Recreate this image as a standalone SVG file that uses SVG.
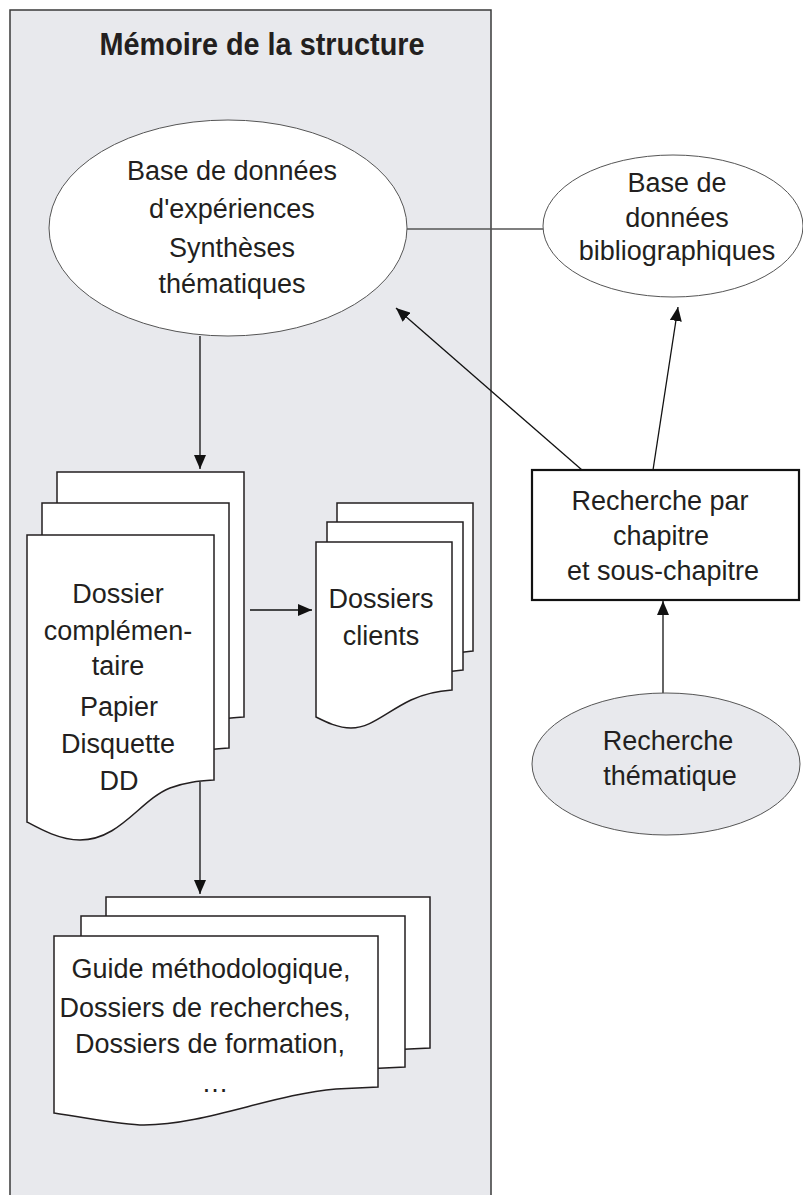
<svg xmlns="http://www.w3.org/2000/svg" xmlns:xlink="http://www.w3.org/1999/xlink" width="803" height="1195" viewBox="0 0 803 1195">
<style>
text{font-family:"Liberation Sans",Arial,sans-serif;font-size:27px;fill:#231f20;text-anchor:middle}
.title{font-weight:bold;font-size:31px}
.panel{fill:#e8e9ed;stroke:#3a3a3a;stroke-width:1.5}
.ell{fill:#fff;stroke:#555;stroke-width:1}
.ellg{fill:#e8e9ed;stroke:#555;stroke-width:1}
.page{fill:#fff;stroke:#231f20;stroke-width:1.5}
.box{fill:#fff;stroke:#111;stroke-width:2.2}
.con{stroke:#111;stroke-width:1.3;fill:none}
.link{stroke:#555;stroke-width:1.6;fill:none}
</style>
<defs>
<marker id="ah" markerUnits="userSpaceOnUse" markerWidth="14" markerHeight="12" refX="14" refY="6" orient="auto">
<path d="M0,0 L14,6 L0,12 Z" fill="#111"/>
</marker>
<path id="doc1" d="M0,0 H187 V245 C173,246 158,247 143,253 C113,265 93,305 53,305 C33,305 13,294 0,287 Z"/>
<path id="doc2" d="M0,0 H136 V148 C120,149 108,152 95,158 C70,170 55,186 35,186 C22,186 10,180 0,175 Z"/>
<path id="doc3" d="M0,0 H324 V151 L282,153 C220,158 150,189 90,189 C70,189 40,183 0,177 Z"/>
</defs>

<g id="memoire">
<rect class="panel" x="10" y="10" width="481" height="1200"/>
<text class="title" x="262" y="55" textLength="325" lengthAdjust="spacingAndGlyphs">Mémoire de la structure</text>
</g>

<g id="connectors">
<line class="link" x1="407" y1="229" x2="543" y2="229"/>
<line class="con" x1="200" y1="336" x2="200" y2="469" marker-end="url(#ah)"/>
<line class="con" x1="250" y1="610" x2="312" y2="610" marker-end="url(#ah)"/>
<line class="con" x1="200" y1="782" x2="200" y2="894" marker-end="url(#ah)"/>
<line class="con" x1="582" y1="470" x2="396" y2="308" marker-end="url(#ah)"/>
<line class="con" x1="653" y1="470" x2="678" y2="307" marker-end="url(#ah)"/>
<line class="con" x1="663" y1="693" x2="663" y2="601" marker-end="url(#ah)"/>
</g>

<g id="base-experiences">
<ellipse class="ell" cx="228" cy="228" rx="179" ry="108"/>
<text x="232" y="180">Base de données</text>
<text x="232" y="218">d'expériences</text>
<text x="232" y="257">Synthèses</text>
<text x="232" y="293">thématiques</text>
</g>

<g id="base-biblio">
<ellipse class="ell" cx="673" cy="226" rx="130" ry="71"/>
<text x="677" y="192">Base de</text>
<text x="677" y="227">données</text>
<text x="677" y="260">bibliographiques</text>
</g>

<g id="dossier-complementaire">
<use xlink:href="#doc1" class="page" x="57" y="472"/>
<use xlink:href="#doc1" class="page" x="42" y="503"/>
<use xlink:href="#doc1" class="page" x="27" y="535"/>
<text x="118" y="603">Dossier</text>
<text x="118" y="640">complémen-</text>
<text x="118" y="675">taire</text>
<text x="119" y="716">Papier</text>
<text x="118" y="753">Disquette</text>
<text x="119" y="790">DD</text>
</g>

<g id="dossiers-clients">
<use xlink:href="#doc2" class="page" x="337" y="503"/>
<use xlink:href="#doc2" class="page" x="327" y="522"/>
<use xlink:href="#doc2" class="page" x="316" y="542"/>
<text x="381" y="608">Dossiers</text>
<text x="381" y="645">clients</text>
</g>

<g id="guides">
<use xlink:href="#doc3" class="page" x="106" y="897"/>
<use xlink:href="#doc3" class="page" x="81" y="916"/>
<use xlink:href="#doc3" class="page" x="54" y="936"/>
<text x="211" y="978">Guide méthodologique,</text>
<text x="205" y="1017">Dossiers de recherches,</text>
<text x="210" y="1053">Dossiers de formation,</text>
<text x="215" y="1092">…</text>
</g>

<g id="recherche-chapitre">
<rect class="box" x="532" y="470" width="267" height="130"/>
<text x="660" y="510">Recherche par</text>
<text x="661" y="545">chapitre</text>
<text x="663" y="580">et sous-chapitre</text>
</g>

<g id="recherche-thematique">
<ellipse class="ellg" cx="666" cy="764" rx="134" ry="71"/>
<text x="668" y="750">Recherche</text>
<text x="670" y="785">thématique</text>
</g>
</svg>
